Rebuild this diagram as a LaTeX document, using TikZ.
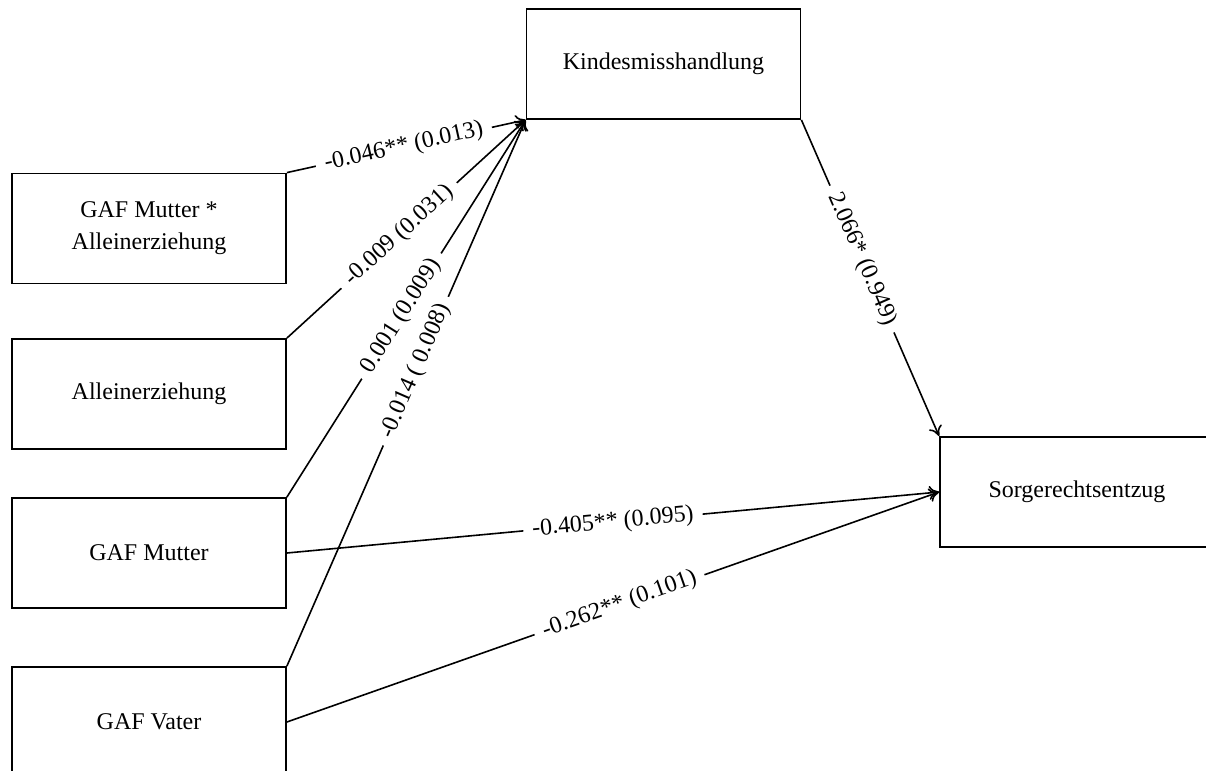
\documentclass[tikz,border=0pt]{standalone}
\usepackage{fontspec}
\setmainfont{Liberation Serif}
\usetikzlibrary{arrows.meta}
\begin{document}
\begin{tikzpicture}[x=0.5pt,y=-0.5pt,
  box/.style={draw, line width=0.9pt, minimum width=137pt, minimum height=55pt, align=center, font=\fontsize{12}{16}\selectfont},
  coef/.style={sloped, fill=white, inner sep=4.5pt, font=\fontsize{12}{14}\selectfont},
  pfeil/.style={-{To[length=5pt,width=7pt]}, line width=0.8pt}]

\clip (0,0) rectangle (1206,771);

% variables
\node[box] (kind) at (663.5,64) {Kindesmisshandlung};
\node[box] (gafma) at (149,228.5) {GAF Mutter *\\Alleinerziehung};
\node[box] (allein) at (149,394) {Alleinerziehung};
\node[box] (gafm) at (149,553) {GAF Mutter};
\node[box] (gafv) at (149,722) {GAF Vater};
\node[box] (sorg) at (1077,492) {Sorgerechtsentzug};

% paths to Kindesmisshandlung
\draw[pfeil] (gafma.north east) -- (kind.south west) node[coef,pos=0.49] {-0.046** (0.013)};
\draw[pfeil] (allein.north east) -- (kind.south west) node[coef,pos=0.47] {-0.009 (0.031)};
\draw[pfeil] (gafm.north east) -- (kind.south west) node[coef,pos=0.48] {0.001 (0.009)};
\draw[pfeil] (gafv.north east) -- (kind.south west) node[coef,pos=0.54] {-0.014 ( 0.008)};

% paths to Sorgerechtsentzug
\draw[pfeil] (kind.south east) -- (sorg.north west) node[coef,pos=0.44] {2.066* (0.949)};
\draw[pfeil] (gafm.east) -- (sorg.west) node[coef,pos=0.5] {-0.405** (0.095)};
\draw[pfeil] (gafv.east) -- (sorg.west) node[coef,pos=0.51] {-0.262** (0.101)};
\end{tikzpicture}
\end{document}
